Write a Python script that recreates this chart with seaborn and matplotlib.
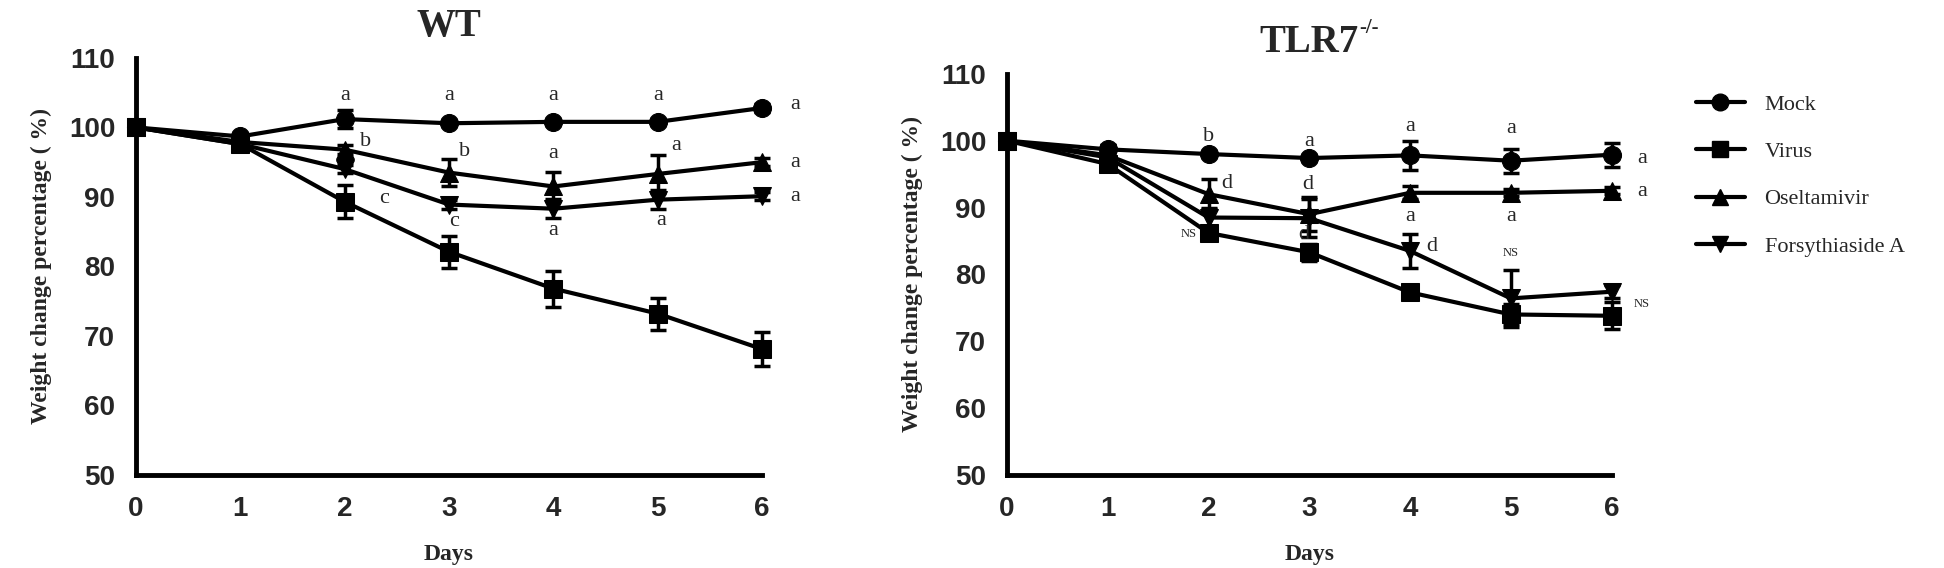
import numpy as np
import pandas as pd
import matplotlib
matplotlib.use('Agg')
import matplotlib.pyplot as plt
from matplotlib.lines import Line2D
import seaborn as sns

days = [0, 1, 2, 3, 4, 5, 6]
groups = ['Mock', 'Virus', 'Oseltamivir', 'Forsythiaside A']
markers = {'Mock': 'o', 'Virus': 's', 'Oseltamivir': '^', 'Forsythiaside A': 'v'}

# WT panel: means and SD
wt_mock = [100, 98.7, 101.2, 100.6, 100.8, 100.8, 102.8]
wt_virus = [100, 97.6, 89.3, 82.1, 76.8, 73.2, 68.1]
wt_osel = [100, 97.9, 96.8, 93.5, 91.5, 93.3, 95.0]
wt_forsy = [100, 97.6, 94.0, 88.9, 88.3, 89.6, 90.1]
wt_mock_sd = [0, 0.5, 1.3, 0.4, 0.4, 0.4, 0.6]
wt_virus_sd = [0, 0.6, 2.4, 2.3, 2.6, 2.3, 2.5]
wt_osel_sd = [0, 0.5, 0.6, 2.0, 2.1, 2.8, 0.6]
wt_forsy_sd = [0, 0.5, 0.6, 0.6, 1.4, 1.4, 0.6]

# TLR7-/- panel
tl_mock = [100, 98.7, 98.0, 97.4, 97.8, 97.0, 97.9]
tl_virus = [100, 96.5, 86.2, 83.3, 77.3, 74.0, 73.8]
tl_osel = [100, 97.8, 92.0, 89.0, 92.2, 92.2, 92.5]
tl_forsy = [100, 97.5, 88.5, 88.4, 83.5, 76.4, 77.4]
tl_mock_sd = [0, 0.6, 0.4, 0.4, 2.2, 1.8, 1.8]
tl_virus_sd = [0, 0.8, 1.0, 1.3, 1.0, 1.5, 2.0]
tl_osel_sd = [0, 1.5, 2.2, 2.5, 1.0, 0.5, 0.5]
tl_forsy_sd = [0, 1.5, 1.5, 2.8, 2.6, 4.3, 1.0]

# significance letters: (day, y, text)
wt_letters = [(2, 104.6, 'a'), (3, 104.6, 'a'), (4, 104.6, 'a'), (5, 104.6, 'a'),
              (2.2, 98.0, 'b'), (3.15, 96.6, 'b'), (4, 96.3, 'a'), (5.18, 97.4, 'a'),
              (2.38, 89.7, 'c'), (3.05, 86.4, 'c'), (4, 85.2, 'a'), (5.03, 86.6, 'a'),
              (6.32, 103.3, 'a'), (6.32, 95.0, 'a'), (6.32, 90.1, 'a')]
tl_letters = [(2, 100.6, 'b'), (3, 99.9, 'a'), (4, 102.1, 'a'), (5, 101.8, 'a'),
              (2.18, 93.6, 'd'), (2.98, 93.4, 'd'), (4, 88.6, 'a'), (5, 88.6, 'a'),
              (2.95, 86.0, 'd'), (4.22, 84.2, 'd'),
              (6.3, 97.4, 'a'), (6.3, 92.4, 'a')]
tl_ns = [(1.8, 86.0, 'NS'), (5.0, 83.2, 'NS'), (6.3, 75.6, 'NS')]

SERIF = 'Liberation Serif'


def long_table(series):
    rows = []
    for g, vals in zip(groups, series):
        for d, v in zip(days, vals):
            rows.append({'Days': d, 'weight': v, 'group': g})
    return pd.DataFrame(rows)


def draw_panel(ax, series, sds, title, letters, ns, sup=None):
    df = long_table(series)
    sns.lineplot(data=df, x='Days', y='weight', style='group', markers=markers,
                 dashes=False, color='black', linewidth=3, markersize=13,
                 markeredgecolor='black', ax=ax, legend=False, clip_on=False)
    for vals, sd in zip(series, sds):
        ax.errorbar(days, vals, yerr=sd, fmt='none', ecolor='black',
                    elinewidth=2.5, capsize=6, capthick=2.5, clip_on=False)
    for x, y, t in letters:
        ax.text(x, y, t, ha='center', va='center', fontsize=16, family=SERIF)
    for x, y, t in ns:
        ax.text(x, y, t, ha='center', va='center', fontsize=9, family=SERIF)
    ax.set_xlim(0, 6)
    ax.set_ylim(50, 110)
    ax.set_xticks(days)
    ax.set_yticks([50, 60, 70, 80, 90, 100, 110])
    for s in ['top', 'right']:
        ax.spines[s].set_visible(False)
    for s in ['left', 'bottom']:
        ax.spines[s].set_linewidth(3.5)
        ax.spines[s].set_color('black')
    ax.tick_params(width=3, length=9, color='black', labelsize=20, pad=6)
    for lab in ax.get_xticklabels() + ax.get_yticklabels():
        lab.set_family('Liberation Sans')
        lab.set_fontweight('bold')
    ax.set_xlabel('Days', fontsize=17, fontweight='bold', family=SERIF, labelpad=16)
    ax.set_ylabel('Weight change percentage ( %)', fontsize=17, fontweight='bold',
                  family=SERIF, labelpad=12)
    t = ax.set_title(title, fontsize=28, fontweight='bold', family=SERIF, pad=16)
    if sup:
        ax.annotate(sup, xy=(1.0, 0.62), xycoords=t, fontsize=15, fontweight='bold',
                    family=SERIF, va='bottom', ha='left')
    ax.grid(False)


sns.set_style('white')
fig = plt.figure(figsize=(19.44, 5.68), dpi=100)
ax1 = fig.add_axes([0.070, 0.164, 0.322, 0.734])
ax2 = fig.add_axes([0.518, 0.164, 0.311, 0.706])

draw_panel(ax1, [wt_mock, wt_virus, wt_osel, wt_forsy],
           [wt_mock_sd, wt_virus_sd, wt_osel_sd, wt_forsy_sd], 'WT', wt_letters, [])
draw_panel(ax2, [tl_mock, tl_virus, tl_osel, tl_forsy],
           [tl_mock_sd, tl_virus_sd, tl_osel_sd, tl_forsy_sd], 'TLR7',
           tl_letters, tl_ns, sup='-/-')

handles = [Line2D([0], [0], color='black', lw=3, marker=markers[g], markersize=12)
           for g in groups]
fig.legend(handles, groups, loc='upper left', bbox_to_anchor=(0.862, 0.869),
           frameon=False, prop={'family': SERIF, 'size': 16},
           handlelength=2.2, labelspacing=1.2, handletextpad=0.9)

fig.savefig('out.png', dpi=100)
